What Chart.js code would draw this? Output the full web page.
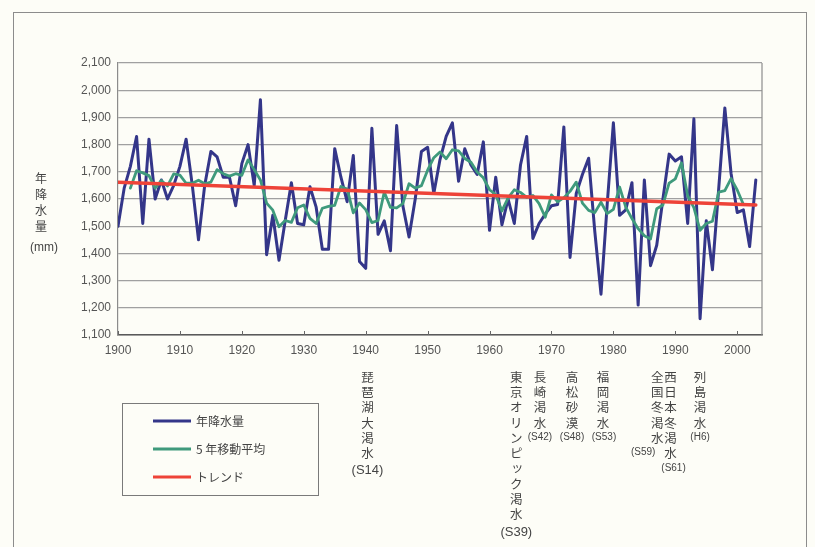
<!DOCTYPE html>
<html lang="ja">
<head>
<meta charset="utf-8">
<title>年降水量の経年変化</title>
<script src="https://cdn.jsdelivr.net/npm/chart.js@4.4.1/dist/chart.umd.min.js"></script>
<style>
  html, body { margin: 0; padding: 0; background: #fdfdf7; }
  #wrap { position: relative; width: 815px; height: 547px; overflow: hidden; }
  #frame { position: absolute; left: 13px; top: 12px; width: 792px; height: 560px; border: 1px solid #8c8c8c; }
  #chart { position: absolute; left: 0; top: 0; }
</style>
</head>
<body>
<div id="wrap">
  <div id="frame"></div>
  <canvas id="chart" width="815" height="547"></canvas>
</div>
<script>
// ---- Data ----
const firstYear = 1900;
const rainfall = [
  1500, 1640, 1720, 1830, 1510, 1820, 1600, 1670, 1600, 1650,   // 1900s
  1720, 1820, 1650, 1450, 1650, 1775, 1755, 1680, 1680, 1575,   // 1910s
  1730, 1800, 1650, 1965, 1395, 1540, 1375, 1520, 1660, 1510,   // 1920s
  1505, 1645, 1570, 1415, 1415, 1785, 1680, 1590, 1760, 1370,   // 1930s
  1345, 1860, 1470, 1520, 1410, 1870, 1575, 1460, 1600, 1775,   // 1940s
  1790, 1620, 1745, 1830, 1880, 1665, 1785, 1725, 1690, 1810,   // 1950s
  1485, 1680, 1505, 1600, 1510, 1725, 1830, 1455, 1510, 1545,   // 1960s
  1575, 1580, 1865, 1385, 1620, 1690, 1750, 1480, 1250, 1580,   // 1970s
  1880, 1540, 1560, 1660, 1210, 1670, 1355, 1430, 1600, 1765,   // 1980s
  1740, 1755, 1510, 1895, 1160, 1520, 1340, 1635, 1935, 1695,   // 1990s
  1550, 1560, 1425, 1670                                        // 2000s
];

const maFirstYear = 1902;
const movingAvg = [
              1640, 1704, 1696, 1686, 1640, 1668, 1648, 1692,
  1688, 1658, 1658, 1669, 1656, 1662, 1708, 1693, 1684, 1693,
  1687, 1744, 1708, 1670, 1585, 1559, 1498, 1521, 1514, 1568,
  1578, 1529, 1510, 1566, 1573, 1577, 1646, 1637, 1549, 1585,
  1561, 1513, 1521, 1626, 1569, 1567, 1583, 1656, 1640, 1649,
  1706, 1752, 1773, 1748, 1781, 1777, 1749, 1735, 1699, 1678,
  1634, 1616, 1556, 1604, 1634, 1624, 1606, 1613, 1583, 1533,
  1615, 1590, 1605, 1628, 1662, 1585, 1558, 1550, 1588, 1546,
  1562, 1644, 1570, 1528, 1491, 1465, 1453, 1564, 1578, 1658,
  1674, 1733, 1612, 1568, 1485, 1510, 1518, 1625, 1631, 1675,
  1633, 1580
];

const trendYears = [1900, 2003];
const trendValues = [1662, 1578];

const xTickYears = [1900, 1910, 1920, 1930, 1940, 1950, 1960, 1970, 1980, 1990, 2000];

const legendLabels = ['年降水量', '5 年移動平均', 'トレンド'];
const yTitle = ['年', '降', '水', '量'];
const yUnit = '(mm)';

const droughtNames = ['琵琶湖大渇水', '東京オリンピック渇水', '長崎渇水', '高松砂漠', '福岡渇水', '全国冬渇水', '西日本冬渇水', '列島渇水'];
const droughtEras  = ['(S14)', '(S39)', '(S42)', '(S48)', '(S53)', '(S59)', '(S61)', '(H6)'];
const droughtYears = [1939, 1964, 1967, 1973, 1978, 1984, 1986, 1994];

// ---- Styles ----
const colors = { rain: '#343689', avg: '#3f9a7c', trend: '#ee4338', text: '#555', grid: '#a0a0a0' };
const numFont = '"Liberation Sans", Arial, sans-serif';
const jpFont = '"Noto Sans CJK JP", sans-serif';
// column shift (px) of each drought label relative to its year, and era label shift
const colShift = [8, 2, 7, 2, 2, 19, 20, 0];
const eraShift = [0, 0, 0, 0, 1, -14, 3, 0];
const eraSmall = [false, false, true, true, true, true, true, true];

const xyPoints = (xs0, ys) => ys.map((v, i) => ({ x: xs0 + i, y: v }));

// ---- Decorations plugin ----
const decorations = {
  id: 'decorations',
  beforeDatasetsDraw(chart) {
    const { ctx, chartArea: a } = chart;
    ctx.save();
    ctx.strokeStyle = '#8c8c8c';
    ctx.lineWidth = 1.2;
    ctx.beginPath();
    ctx.moveTo(a.right, a.top);
    ctx.lineTo(a.right, a.bottom);
    ctx.stroke();
    // small decade ticks standing on the x axis
    const xs = chart.scales.x;
    ctx.strokeStyle = '#666';
    ctx.lineWidth = 1;
    xs.ticks.forEach(t => {
      const px = Math.round(xs.getPixelForValue(t.value)) + 0.5;
      ctx.beginPath();
      ctx.moveTo(px, a.bottom);
      ctx.lineTo(px, a.bottom - 4);
      ctx.stroke();
    });
    ctx.restore();
  },
  afterDraw(chart) {
    const { ctx } = chart;
    const xs = chart.scales.x;
    ctx.save();
    ctx.fillStyle = '#444';
    ctx.textAlign = 'center';
    ctx.textBaseline = 'middle';

    // y axis title, stacked
    ctx.font = '12px ' + jpFont;
    yTitle.forEach((ch, i) => ctx.fillText(ch, 41, 178 + i * 16));
    ctx.font = '12px ' + numFont;
    ctx.fillText(yUnit, 44, 248);

    // legend box
    ctx.strokeStyle = '#7a7a7a';
    ctx.lineWidth = 1;
    ctx.strokeRect(122.5, 403.5, 196, 92);
    const lineColors = [colors.rain, colors.avg, colors.trend];
    legendLabels.forEach((lab, i) => {
      const y = 421 + i * 28;
      ctx.strokeStyle = lineColors[i];
      ctx.lineWidth = 3;
      ctx.beginPath();
      ctx.moveTo(153, y);
      ctx.lineTo(191, y);
      ctx.stroke();
      ctx.textAlign = 'left';
      ctx.font = '12px ' + jpFont;
      ctx.fillText(lab, 196, y);
    });

    // drought annotations (vertical text)
    ctx.textAlign = 'center';
    droughtNames.forEach((name, i) => {
      const cx = xs.getPixelForValue(droughtYears[i]) + colShift[i];
      ctx.font = '12.5px ' + jpFont;
      const chars = Array.from(name);
      chars.forEach((ch, k) => {
        const isSmallKana = 'ッ'.includes(ch);
        ctx.fillText(ch, cx + (isSmallKana ? 1 : 0), 377 + k * 15.3 - (isSmallKana ? 2 : 0));
      });
      const eraY = 377 + chars.length * 15.3 + (eraSmall[i] ? -1 : 2);
      ctx.font = (eraSmall[i] ? '10px ' : '13px ') + numFont;
      ctx.fillText(droughtEras[i], cx + eraShift[i], eraY);
    });
    ctx.restore();
  }
};

// ---- Chart ----
new Chart(document.getElementById('chart'), {
  type: 'line',
  data: {
    datasets: [
      {
        label: legendLabels[2],
        data: trendValues.map((v, i) => ({ x: trendYears[i], y: v })),
        borderColor: colors.trend, borderWidth: 3.5, pointRadius: 0, order: 0
      },
      {
        label: legendLabels[1],
        data: xyPoints(maFirstYear, movingAvg),
        borderColor: colors.avg, borderWidth: 2.8, pointRadius: 0, order: 1
      },
      {
        label: legendLabels[0],
        data: xyPoints(firstYear, rainfall),
        borderColor: colors.rain, borderWidth: 3, pointRadius: 0, order: 2
      }
    ]
  },
  options: {
    responsive: false, animation: false,
    layout: { padding: { top: 63, right: 53, bottom: 0, left: 0 } },
    plugins: {
      legend: { display: false },
      tooltip: { enabled: false },
      decorations: {}
    },
    elements: { line: { tension: 0, borderJoinStyle: 'round', borderCapStyle: 'round' } },
    scales: {
      x: {
        type: 'linear', min: 1900, max: 2004,
        afterBuildTicks: s => { s.ticks = xTickYears.map(v => ({ value: v })); },
        afterFit: s => { s.height = 212; },
        ticks: {
          color: colors.text, font: { family: numFont, size: 12 }, padding: 8,
          maxRotation: 0, autoSkip: false,
          callback: v => String(v)
        },
        grid: { display: false, drawTicks: false },
        border: { color: '#5a5a5a', width: 1.5 }
      },
      y: {
        min: 1100, max: 2100,
        afterFit: s => { s.width = 118; },
        ticks: {
          stepSize: 100, color: colors.text, padding: 7,
          font: { family: numFont, size: 12 },
          callback: v => v.toLocaleString('en-US')
        },
        grid: { color: colors.grid, lineWidth: 1.3, drawTicks: false },
        border: { color: '#8c8c8c', width: 1.2 }
      }
    }
  },
  plugins: [decorations]
});
</script>
</body>
</html>
